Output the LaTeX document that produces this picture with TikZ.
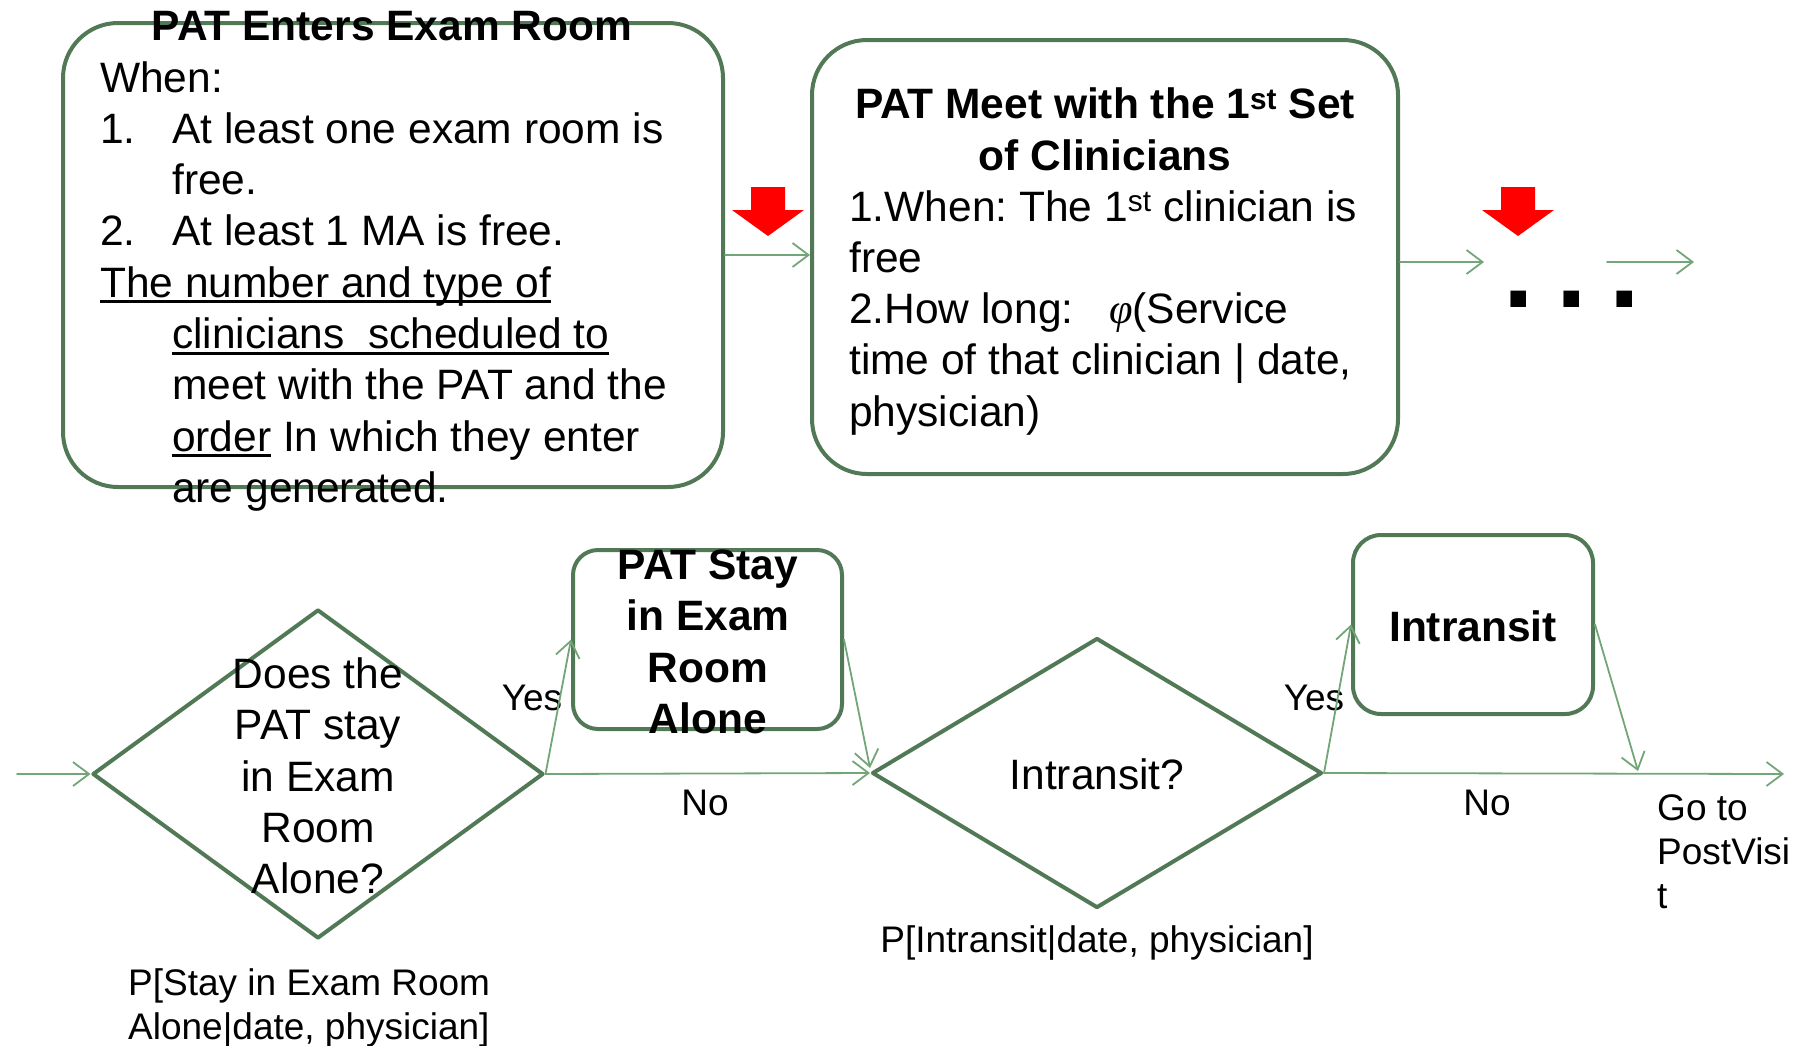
\documentclass[tikz,border=0pt]{standalone}
\usepackage{fontspec}
\setmainfont{Liberation Sans}
\newfontfamily\phifont{Liberation Serif}
\usepackage{xcolor}
\usetikzlibrary{arrows.meta,calc,positioning,shapes.geometric}
\definecolor{boxgreen}{RGB}{82,121,86}
\definecolor{flowgreen}{RGB}{114,166,120}
\newcommand{\markline}[1]{\setbox0\hbox{#1}\rlap{\raisebox{-6pt}{\rule{\wd0}{2.8pt}}}\box0\relax}
\frenchspacing
\tikzset{
  stepbox/.style={draw=boxgreen, line width=4pt, rounded corners=55pt, inner sep=0pt},
  decision/.style={diamond, draw=boxgreen, line width=4pt, inner sep=0pt},
  flow/.style={draw=flowgreen, line width=1.8pt, -{Straight Barb[length=16pt,width=24pt]}},
  bigtxt/.style={font=\fontsize{42.5}{51.3}\selectfont, inner sep=0pt},
  headtxt/.style={font=\fontsize{42.5}{51.3}\selectfont\bfseries, inner sep=0pt},
  smalltxt/.style={font=\fontsize{37}{44}\selectfont, inner sep=0pt},
  every picture/.style={line cap=round, line join=round}
}

\begin{document}
\begin{tikzpicture}[x=1pt,y=-1pt]
    \useasboundingbox (0,0) rectangle (1807,1045);

    % top row
    \node[stepbox, minimum width=660pt, minimum height=464pt] (enter) at (393,255) {};
    \node[stepbox, minimum width=586pt, minimum height=434pt] (meet) at (1105,257) {};

    % multi-line nodes: base = last line
    \node[headtxt, anchor=base] (enterhead) at (392,40) {PAT Enters Exam Room};
    \node[bigtxt, anchor=base west, align=left] (entertext) at (100,502.4) {When:\\
      \makebox[72pt][l]{1.}At least one exam room is\\
      \hspace*{72pt}free.\\
      \makebox[72pt][l]{2.}At least 1 MA is free.\\
      \markline{The number and type of}\\
      \hspace*{72pt}\markline{clinicians\ \ scheduled to}\\
      \hspace*{72pt}meet with the PAT and the\\
      \hspace*{72pt}\markline{order} In which they enter\\
      \hspace*{72pt}are generated.};

    \node[headtxt, anchor=base, align=center] (meethead) at (1105,170)
      {PAT Meet with the 1\textsuperscript{st} Set\\of Clinicians};
    \node[bigtxt, anchor=base west, align=left] (meettext) at (849,426.2)
      {1.When: The 1\textsuperscript{st} clinician is\\free\\
       2.How long:\ \ \ {\phifont\itshape φ}(Service\\time of that clinician | date,\\physician)};

    \foreach \cx in {768,1518}
    {
      \fill[red] (\cx-17,187) -- (\cx+17,187) -- (\cx+17,210) -- (\cx+36,210)
        -- (\cx,236) -- (\cx-36,210) -- (\cx-17,210) -- cycle;
    }

    \coordinate (moreL) at (1484,262);
    \coordinate (moreR) at (1607,262);
    \coordinate (nextstep) at (1694,262);
    \node[font=\fontsize{110}{110}\selectfont\bfseries, inner sep=0pt, anchor=base] (more) at (1572,307)
      {.\hspace{22.5pt}.\hspace{22.5pt}.};

    \draw[flow] (enter.east) -- (enter.east -| meet.west);
    \draw[flow] (meet.east |- moreL) -- (moreL);
    \draw[flow] (moreR) -- (nextstep);

    % bottom row
    \coordinate (entry) at (17,774);
    \node[decision, minimum width=451pt, minimum height=329pt] (alone) at (318,774) {};
    \node[bigtxt, align=center] (alonetext) at (318,776) {Does the\\PAT stay\\in Exam\\Room\\Alone?};
    \node[smalltxt, anchor=base west, align=left] (aloneprob) at (128,1039)
      {P[Stay in Exam Room\\Alone|date, physician]};

    \node[stepbox, rounded corners=25pt, minimum width=269pt, minimum height=179pt] (stay) at (707.5,639.5) {};
    \node[headtxt, align=center] (staytext) at (708,642) {PAT Stay\\in Exam\\Room\\Alone};

    \node[decision, minimum width=450pt, minimum height=270pt] (transit) at (1097,773) {};
    \node[bigtxt] (transittext) at (1097,774) {Intransit?};
    \node[smalltxt] (transitprob) at (1097,943) {P[Intransit|date, physician]};

    \node[stepbox, rounded corners=28pt, minimum width=240pt, minimum height=179pt] (transitbox) at (1473,624.5) {};
    \node[headtxt] (transitboxtext) at (1473,626) {Intransit};

    \coordinate (merge) at (1638,771);
    \coordinate (postvisit) at (1784,774);
    \node[smalltxt, anchor=base west, align=left] (gotext) at (1657,908) {Go to\\PostVisi\\t};

    \node[smalltxt] (yesstay) at (532,698) {Yes};
    \node[smalltxt] (nostay) at (705,803) {No};
    \node[smalltxt] (yestransit) at (1314,698) {Yes};
    \node[smalltxt] (notransit) at (1487,803) {No};

    \draw[flow] (entry) -- (alone.west);
    \draw[flow] (alone.east) -- (stay.west);
    \draw[flow] (alone.east) -- (transit.west);
    \draw[flow] (stay.east) -- ($(transit.west)+(0,-5)$);
    \draw[flow] (transit.east) -- (transitbox.west);
    \draw[flow] (transitbox.east) -- (merge);
    \draw[flow] (transit.east) -- (postvisit);
\end{tikzpicture}
\end{document}
